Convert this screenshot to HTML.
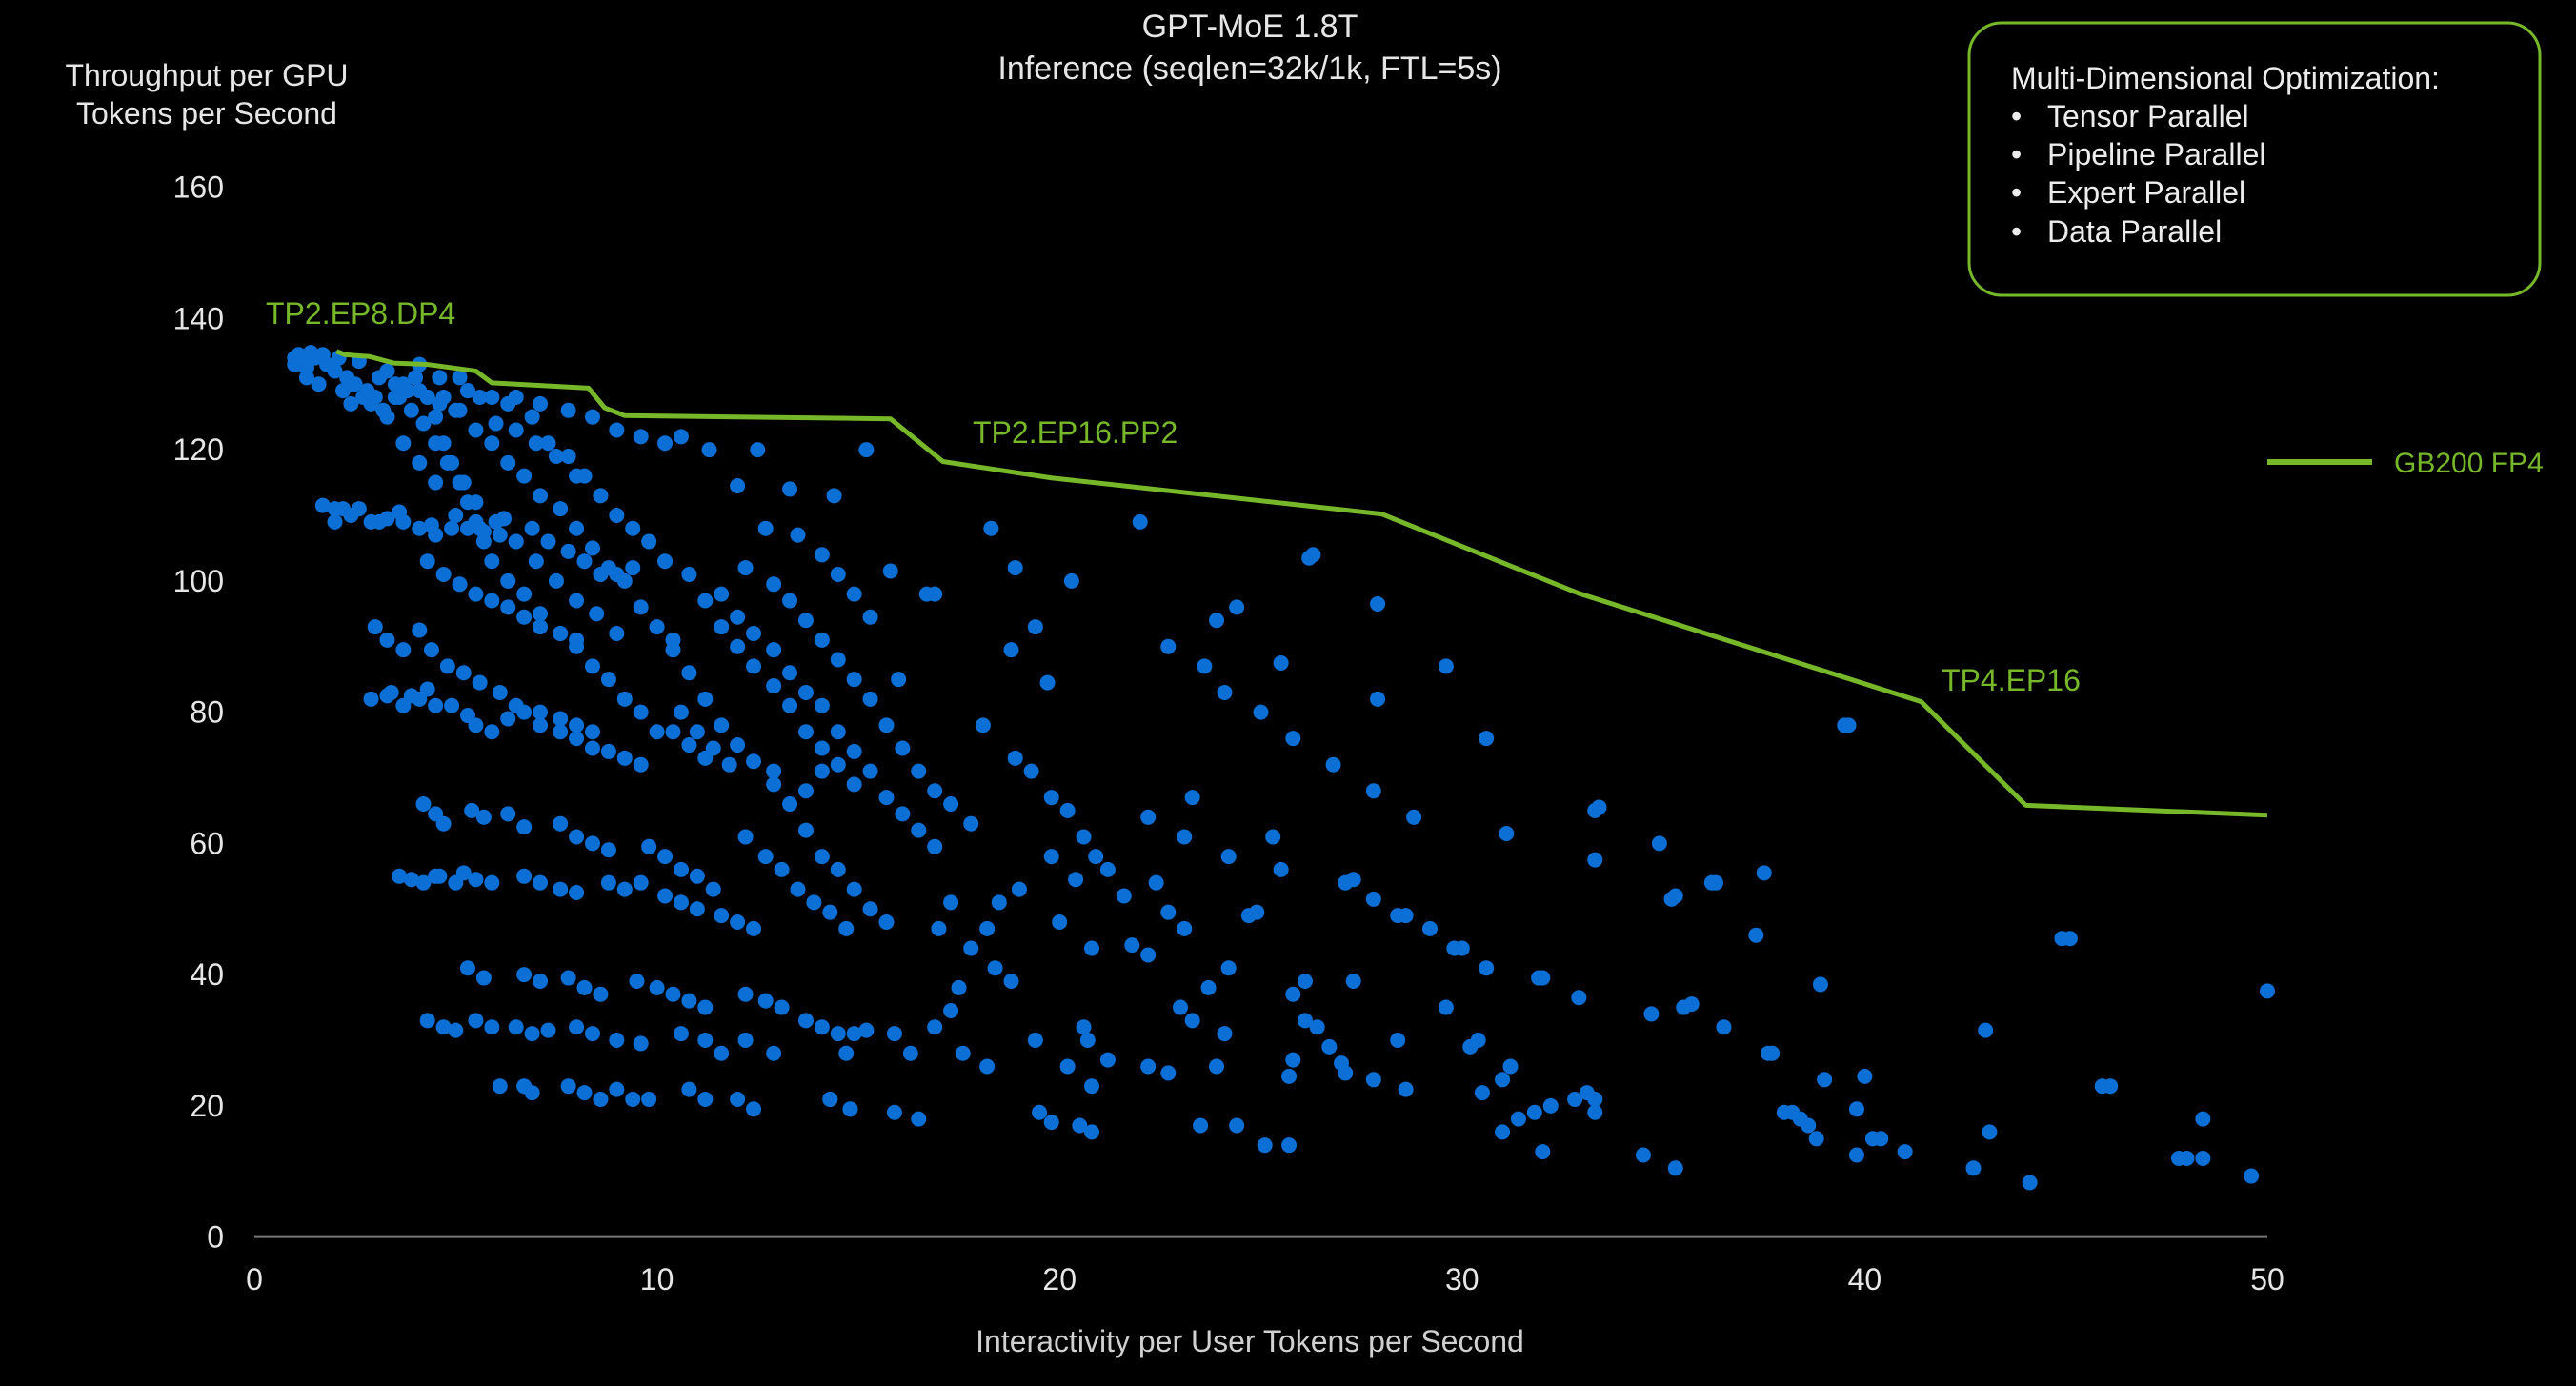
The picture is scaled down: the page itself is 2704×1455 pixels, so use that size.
<!DOCTYPE html>
<html><head><meta charset="utf-8">
<style>
html,body{margin:0;padding:0;background:#000;}
body{width:2704px;height:1450px;overflow:hidden;font-family:"Liberation Sans",sans-serif;}
svg text{font-family:"Liberation Sans",sans-serif;}
</style></head>
<body>
<svg id="chart" width="2704" height="1450" viewBox="0 0 2704 1450" xmlns="http://www.w3.org/2000/svg">
<rect width="2704" height="1450" fill="#000"/>
<g fill="#e6e6e6" font-size="34" text-anchor="middle">
<text x="1312" y="39">GPT-MoE 1.8T</text>
<text x="1312" y="83">Inference (seqlen=32k/1k, FTL=5s)</text>
</g>
<g fill="#e6e6e6" font-size="32" text-anchor="middle">
<text x="217" y="90">Throughput per GPU</text>
<text x="217" y="130">Tokens per Second</text>
</g>
<text x="1312" y="1419" fill="#d0d0d0" font-size="32" text-anchor="middle">Interactivity per User Tokens per Second</text>
<g id="yticks"></g>
<g id="xticks"></g>
<line x1="267" y1="1298.6" x2="2380" y2="1298.6" stroke="#777" stroke-width="2"/>
<g id="dots"></g>
<polyline id="frontier" fill="none" stroke="#76b82a" stroke-width="5" stroke-linejoin="round"/>
<g fill="#76b82a" font-size="32">
<text x="279" y="340">TP2.EP8.DP4</text>
<text x="1021" y="465">TP2.EP16.PP2</text>
<text x="2038" y="725">TP4.EP16</text>
</g>
<g>
<line x1="2380" y1="485" x2="2490" y2="485" stroke="#76b82a" stroke-width="6"/>
<text x="2513" y="496" fill="#76b82a" font-size="30">GB200 FP4</text>
</g>
<g>
<rect x="2067" y="24" width="599" height="286" rx="34" fill="none" stroke="#76b82a" stroke-width="3"/>
<g fill="#ececec" font-size="32">
<text x="2111" y="93">Multi-Dimensional Optimization:</text>
<text x="2111" y="133">•</text><text x="2149" y="133">Tensor Parallel</text>
<text x="2111" y="173">•</text><text x="2149" y="173">Pipeline Parallel</text>
<text x="2111" y="213">•</text><text x="2149" y="213">Expert Parallel</text>
<text x="2111" y="254">•</text><text x="2149" y="254">Data Parallel</text>
</g>
</g>
</svg>
<script>
const yTickValues=[0,20,40,60,80,100,120,140,160];
const xTickValues=[0,10,20,30,40,50];
const lineX=[2.04,2.24,2.86,3.47,4.3,5.5,5.9,8.3,8.7,9.2,15.8,17.1,19.8,28,32.9,41.4,44,50];
const lineY=[135,134.5,134.2,133.2,133,132,130.2,129.4,126.4,125.2,124.7,118.2,115.7,110.2,98.1,81.6,65.8,64.3];
const ptX=[1,1.2,1.5,1.8,2,2.3,2.5,2.8,3,1.3,1.6,2.4,3.2,3.5,3.8,4,4.3,4.6,5,5.3,5.6,6,6.5,7,7.5,8,4.2,4.5,4.8,5.2,5.5,6,6.5,7,7.5,8,8.5,9,
5.9,6.3,6.7,7.1,7.6,8,8.4,8.8,9.2,9.6,10,10.4,
4.3,4.5,4.7,4.9,5.1,5.3,5.5,5.7,5.9,6.3,6.7,7.1,7.6,8,8.4,8.8,9.2,9.6,10,
3.5,3.9,5.1,5.5,6.3,6.9,7.3,7.8,8.2,8.6,9,9.4,9.8,10.2,
3.1,3.7,4.1,4.7,5.3,5.9,6.5,7.1,7.8,8.4,9,9.6,10.2,
2.4,2.9,3.3,3.7,4.1,4.5,
1.7,2,2.4,2.9,3.3,3.7,4.1,4.5,4.9,5.3,5.7,6.1,6.5,6.9,7.3,7.8,8.2,8.6,9,9.4,4.3,4.7,5.1,5.5,5.9,6.3,6.7,7.1,7.6,8,
3,3.3,3.7,4.1,4.4,4.8,5.2,5.6,6.1,6.5,7.1,7.6,8,8.4,
2.9,3.3,3.7,4.1,4.5,4.9,5.3,5.5,5.9,6.3,6.7,7.1,7.6,8,8.4,8.8,9.2,9.6,
4.2,4.5,4.7,5.4,5.7,6.3,6.7,7.6,8,8.4,8.8,9.8,10.2,10.6,11,11.4,
3.6,3.9,4.2,4.6,5,5.5,5.9,6.7,7.1,7.6,8,8.8,9.2,9.6,10.2,10.6,11,11.6,12,12.4,
5.3,5.7,6.7,7.1,7.8,8.2,8.6,9.5,10,10.4,10.8,11.2,12.2,12.7,13.1,13.7,14.1,14.5,14.9,
4.3,4.7,5,5.5,5.9,6.5,6.9,7.3,8,8.4,9,9.6,10.6,11.2,11.6,12.2,12.9,
6.1,6.7,6.9,7.8,8.2,8.6,9,9.4,9.8,10.8,11.2,12,12.4,14.3,14.8,
10.6,11.3,12.5,13.3,14.4,15.2,12,12.7,13.5,14.1,14.5,14.9,15.3,
12.2,12.9,13.3,13.7,14.1,14.5,14.9,15.3,15.7,16.1,16.5,16.9,17.3,17.8,
11.6,12,12.4,12.9,13.3,13.7,14.1,14.5,14.9,15.3,15.7,16.1,16.5,16.9,
10.8,11.2,11.6,12,12.4,12.9,13.3,13.7,14.1,14.5,14.9,
10.4,10.8,11.2,11.6,12,12.4,12.9,13.3,13.7,14.1,14.5,14.9,15.3,15.7,
12.2,12.7,13.1,13.5,13.9,14.3,14.7,12.9,13.7,14.1,11.2,10.8,10.4,10.6,11,11.4,11.8,
15.8,16.9,16.7,16,18.1,18.3,18.9,19.4,19.7,20.3,18.8,18.9,19.3,19.8,20.2,20.6,20.9,21.2,21.6,19.8,20.4,20,20.8,19,18.5,18.2,17.8,17.3,17,19.4,20.6,20.7,21.2,20.8,20.2,19.8,20.5,20.8,19.5,18.8,18.4,17.5,17.3,16.9,17.6,18.2,16.3,15.9,15.2,14.7,14.3,14.8,15.9,16.5,
22,22.7,22.2,22.4,22.7,21.8,22.2,23,23.3,24.1,23.9,24.4,23.5,22.7,22.2,23.1,24.2,23.7,
25,24.4,23.9,24.1,24.2,23.6,23.3,23.1,24.9,24.7,25.3,25.5,25.5,25.7,25.8,25.7,25.1,25.8,25.8,26.1,26.1,26.3,26.2,26.4,26.7,27,26.8,27.1,27.1,27.3,27.3,27.8,27.8,27.8,27.9,27.9,28.4,28.6,28.4,28.6,28.8,29.2,29.6,29.6,29.8,30,30.2,30.4,30.5,30.6,30.6,31,31.1,31,31.2,31.4,31.8,32,31.9,32,32.2,32.8,32.9,33.1,33.3,33.3,33.3,33.3,33.4,34.5,34.7,34.9,35.2,35.3,35.3,35.5,35.7,36.2,36.3,36.5,37.3,37.5,37.6,37.7,38,38.2,38.4,38.6,38.8,39,38.9,39.5,39.6,39.8,40,39.8,40.2,40.4,41,42.7,43,43.1,44.1,44.9,45.1,45.9,46.1,47.8,48,48.4,48.4,49.6,50,
1.1,1.4,1.7,2.1,2.6,1.0,1.3,2.2,2.7,3.3,3.6,4.1,4.6,5.1,2,2.2,2.6,3.1,3.6,4.4,5.0,5.6,6.2,3.4,3.9,4.3,4.5,5.2];
const ptY=[134,133,134,133,132,131,130,129,128,131,130,127,126,130,129,131,128,127,126,129,128,124,123,121,119,116,124,121,118,115,112,109,106,103,100,97,95,92,
121,118,116,113,111,108,105,102,100,96,93,91,
128,125,121,118,115,112,109,106,103,100,98,95,92,90,87,85,82,80,77,
128,126,126,123,127,125,121,119,116,113,110,108,106,103,
131,130,129,128,129,128,128,127,126,125,123,122,121,
130,127,125,121,118,115,
111.5,111,110,109,109.5,109,108,107,108,108,107.5,107,106,108,106,104.5,103,101,101,102,103,101,99.5,98,97,96,94.5,93,92,91,
93,91,89.5,92.5,89.5,87,86,84.5,83,81,80,79,78,77,
82,82.5,81,82,81,81,79.5,78,77,79,80,78,77,76,74.5,74,73,72,
66,64.5,63,65,64,64.5,62.5,63,61,60,59,59.5,58,56,55,53,
55,54.5,54,55,54,54.5,54,55,54,53,52.5,54,53,54,52,51,50,49,48,47,
41,39.5,40,39,39.5,38,37,39,38,37,36,35,37,36,35,33,32,31,31,
33,32,31.5,33,32,32,31,31.5,32,31,30,29.5,31,30,28,30,28,
23,23,22,23,22,21,22.5,21,21,22.5,21,21,19.5,21,19.5,
122,120,120,114,113,120,114.5,108,107,104,101,98,94.5,
102,99.5,97,94,91,88,85,82,78,74.5,71,68,66,63,
98,94.5,92,89.5,86,83,81,77,74,71,67,64.5,62,59.5,
101,97,93,90,87,84,81,77,74.5,72,69,
89.5,86,82,78,75,72.5,69,66,62,58,56,53,50,48,
61,58,56,53,51,49.5,47,71,68,71,73,75,77,80,77,74.5,72,
101.5,98,98,85,78,108,102,93,84.5,100,89.5,73,71,67,65,61,58,56,52,58,54.5,48,44,53,51,47,44,51,47,30,32,30,27,23,26,17.5,17,16,19,39,41,38,34.5,32,28,26,28,31,31.5,28,21,19.5,19,18,
109,90,64,54,49.5,44.5,43,35,33,31,26,17,17,25,26,47,41,38,
80,96,94,83,58,87,67,61,49.5,49,61,56,87.5,24.5,76,14,14,37,27,39,33,104,103.5,32,29,26.5,72,25,54,54.5,39,24,51.5,68,82,96.5,30,22.5,49,49,64,47,35,87,44,44,29,30,22,41,76,16,61.5,24,26,18,19,13,39.5,39.5,20,21,36.5,22,21,19,57.5,65,65.5,12.5,34,60,51.5,52,10.5,35,35.5,54,54,32,46,55.5,28,28,19,19,18,17,15,24,38.5,78,78,19.5,24.5,12.5,15,15,13,10.5,31.5,16,8.3,45.5,45.5,23,23,12,12,12,18,9.3,37.5,
134.5,134.8,134.5,134,133.5,133,132.5,129,128,132,128,133,131,131,109,111,111,109,110.5,108.5,110,108,109.5,83,82.5,83.5,55,55.5];

const X0=267,X1=2380,Y0=1298.6,Y1=196.6;
function xScale(v){return X0+(X1-X0)*v/50;}
function yScale(v){return Y0-(Y0-Y1)*v/160;}
const NS='http://www.w3.org/2000/svg';
const yt=document.getElementById('yticks');
yTickValues.forEach(v=>{
  const t=document.createElementNS(NS,'text');
  
  
  t.setAttribute('x',235);t.setAttribute('y',yScale(v)+11);
  t.setAttribute('text-anchor','end');t.setAttribute('fill','#e6e6e6');t.setAttribute('font-size','32');
  t.textContent=v;yt.appendChild(t);
});
const xt=document.getElementById('xticks');
xTickValues.forEach(v=>{
  const t=document.createElementNS(NS,'text');
  
  
  t.setAttribute('x',xScale(v));t.setAttribute('y',1354);
  t.setAttribute('text-anchor','middle');t.setAttribute('fill','#e6e6e6');t.setAttribute('font-size','32');
  t.textContent=v;xt.appendChild(t);
});
const dg=document.getElementById('dots');
const n=Math.min(ptX.length,ptY.length);
for(let i=0;i<n;i++){
  const c=document.createElementNS(NS,'circle');
  
  
  c.setAttribute('cx',xScale(ptX[i]));c.setAttribute('cy',yScale(ptY[i]));
  c.setAttribute('r',8);c.setAttribute('fill','#0b6fd6');
  dg.appendChild(c);
}
document.getElementById('frontier').setAttribute('points',lineX.map((x,i)=>xScale(x)+','+yScale(lineY[i])).join(' '));
</script>
</body></html>
